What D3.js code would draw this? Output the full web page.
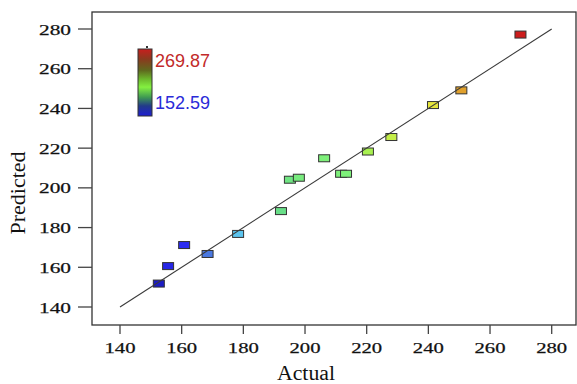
<!DOCTYPE html>
<html><head><meta charset="utf-8">
<script src="https://cdn.jsdelivr.net/npm/d3@7"></script>
<style>html,body{margin:0;padding:0;background:#fff;}svg{display:block;}</style>
</head><body><svg id="c" width="577" height="384"></svg>
<script>
const actual    = [152.59, 155.6, 160.8, 168.4, 178.3, 192.2, 195.1, 198.0, 206.2, 211.7, 213.3, 220.4, 228.0, 241.5, 250.7, 269.87];
const predicted = [151.8, 160.6, 171.2, 166.7, 176.8, 188.3, 204.1, 205.1, 214.9, 207.1, 207.1, 218.3, 225.6, 241.7, 249.1, 277.2];
const ticks = [140, 160, 180, 200, 220, 240, 260, 280];
const legendMax = 269.87, legendMin = 152.59;

const svg = d3.select("#c");
const box = {l: 92, t: 12, r: 576, b: 325};
const x = d3.scaleLinear().domain([140, 280]).range([120, 551.7]);
const y = d3.scaleLinear().domain([140, 280]).range([307, 29]);

const col = d3.scaleLinear()
  .domain([152.59, 155.6, 160.8, 168.4, 178.3, 192.2, 200, 213.3, 220.4, 228, 241.5, 250.7, 269.87])
  .range(["#1c1cc4", "#2626e6", "#2c2cf2", "#4a78e0", "#5cc4ee", "#68de88", "#7ef07a", "#7ef07a", "#a8f050", "#c4ee48", "#e6e63c", "#e0a02c", "#cc1c1c"]);

// frame
svg.append("rect").attr("x", box.l).attr("y", box.t)
  .attr("width", box.r - box.l).attr("height", box.b - box.t)
  .attr("fill", "none").attr("stroke", "#333").attr("stroke-width", 1.3);

// y axis ticks
const yAxis = svg.append("g");
ticks.forEach(t => {
  yAxis.append("line").attr("x1", 78).attr("x2", box.l).attr("y1", y(t)).attr("y2", y(t))
    .attr("stroke", "#444").attr("stroke-width", 1.3);
  yAxis.append("text").attr("x", 71).attr("y", y(t) + 5.5).attr("text-anchor", "end")
    .attr("font-family", "Liberation Serif").attr("font-size", 15.5)
    .attr("textLength", 32).attr("lengthAdjust", "spacingAndGlyphs")
    .attr("fill", "#111").attr("stroke", "#111").attr("stroke-width", 0.25).text(t);
});
// x axis ticks
const xAxis = svg.append("g");
ticks.forEach(t => {
  xAxis.append("line").attr("x1", x(t)).attr("x2", x(t)).attr("y1", box.b).attr("y2", 334)
    .attr("stroke", "#444").attr("stroke-width", 1.3);
  xAxis.append("text").attr("x", x(t)).attr("y", 353).attr("text-anchor", "middle")
    .attr("font-family", "Liberation Serif").attr("font-size", 15.5)
    .attr("textLength", 31).attr("lengthAdjust", "spacingAndGlyphs")
    .attr("fill", "#111").attr("stroke", "#111").attr("stroke-width", 0.25).text(t);
});

// axis titles
svg.append("text").attr("x", 306).attr("y", 380).attr("text-anchor", "middle")
  .attr("font-family", "Liberation Serif").attr("font-size", 20)
  .attr("textLength", 58).attr("lengthAdjust", "spacingAndGlyphs")
  .attr("fill", "#111").text("Actual");
svg.append("text").attr("transform", "translate(25,193) rotate(-90)").attr("text-anchor", "middle")
  .attr("font-family", "Liberation Serif").attr("font-size", 20)
  .attr("textLength", 83).attr("lengthAdjust", "spacingAndGlyphs")
  .attr("fill", "#111").text("Predicted");

// points
const pts = actual.map((a, i) => ({a, p: predicted[i]}));
svg.append("g").selectAll("rect").data(pts).join("rect")
  .attr("x", d => x(d.a) - 5.5).attr("y", d => y(d.p) - 3.5)
  .attr("width", 11).attr("height", 7)
  .attr("fill", d => col(d.a)).attr("stroke", "#333").attr("stroke-width", 1);

// 1:1 line
svg.append("line").attr("x1", x(140)).attr("y1", y(140)).attr("x2", x(280)).attr("y2", y(280))
  .attr("stroke", "#3a3a3a").attr("stroke-width", 1.1);

// legend colour bar
const defs = svg.append("defs");
const g = defs.append("linearGradient").attr("id", "cb").attr("x1", 0).attr("y1", 0).attr("x2", 0).attr("y2", 1);
[[0, "#c81e1e"], [0.15, "#8a3a1e"], [0.32, "#5f6a1e"], [0.45, "#6cb82c"], [0.57, "#84f040"], [0.72, "#3f9a52"], [0.85, "#223a8a"], [1, "#1e1ed2"]]
  .forEach(s => g.append("stop").attr("offset", s[0]).attr("stop-color", s[1]));
svg.append("rect").attr("x", 138).attr("y", 49).attr("width", 14).attr("height", 67)
  .attr("fill", "url(#cb)").attr("stroke", "#333").attr("stroke-width", 1);
svg.append("rect").attr("x", 146).attr("y", 46).attr("width", 2).attr("height", 2).attr("fill", "#333");
svg.append("text").attr("x", 155).attr("y", 67).attr("font-family", "Liberation Sans").attr("font-size", 18)
  .attr("fill", "#c22a2a").text(legendMax.toFixed(2));
svg.append("text").attr("x", 155).attr("y", 109).attr("font-family", "Liberation Sans").attr("font-size", 18)
  .attr("fill", "#2a2ad8").text(legendMin.toFixed(2));
</script></body></html>
